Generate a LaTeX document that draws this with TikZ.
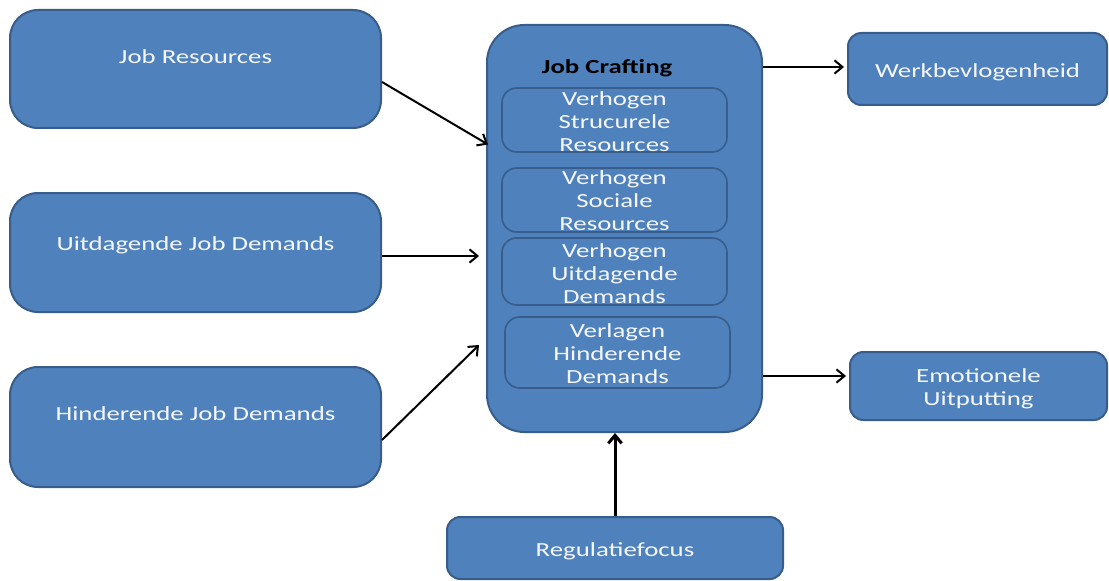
\documentclass[tikz,border=0pt]{standalone}
\usepackage{fontspec}
\setmainfont{Carlito}[FakeStretch=1.34]
\usepackage{tikz}
\usetikzlibrary{fit}
\usetikzlibrary{calc}
\usetikzlibrary{arrows.meta}
\definecolor{boxblue}{rgb}{0.31,0.506,0.741}
\definecolor{edgeblue}{rgb}{0.22,0.365,0.541}
\definecolor{textwhite}{rgb}{0.96,0.97,0.99}

\begin{document}
\begin{tikzpicture}[x=0.75pt, y=-0.75pt,
	box/.style={draw=edgeblue, fill=boxblue, line width=1.5pt, inner sep=0pt},
	lbox/.style={box, rounded corners=21pt},
	rbox/.style={box, rounded corners=10pt},
	ibox/.style={box, line width=1.2pt, rounded corners=11pt},
	lbl/.style={inner sep=0pt, text=textwhite, align=center,
		font=\fontsize{15}{17.25}\selectfont},
	arr/.style={-{Straight Barb[length=6pt,width=10pt]}, line width=1.5pt},
	title/.style={inner sep=0pt, font=\fontsize{15}{17.25}\selectfont\bfseries}]
	\useasboundingbox (0,0) rectangle (1109,581);

	\node[lbox, fit={(10,10) (381,128)}] (jr) {};	% left
	\node[lbl] (jrtext) at ($(jr)+(0,-12)$) {Job Resources};
	\node[lbox, fit={(10,193) (381,312)}] (ujd) {};
	\node[lbl] (ujdtext) at ($(ujd)+(0,-7)$) {Uitdagende Job Demands};
	\node[lbox, fit={(10,367) (381,487)}] (hjd) {};
	\node[lbl] (hjdtext) at ($(hjd)+(0,-13)$) {Hinderende Job Demands};

	\node[box, rounded corners=28pt, fit={(487,25) (762,432)}] (jc) {};	% Job Crafting
	\node[title] (jctitle) at (607,68) {Job Crafting};
	\node[ibox, fit={(502,88) (727,152)}] (vsr) {};
	\node[lbl] (vsrtext) at ($(vsr)+(0,2)$) {Verhogen\\Strucurele\\Resources};
	\node[ibox, fit={(502,168) (727,232)}] (vso) {};
	\node[lbl] (vsotext) at ($(vso)+(0,1)$) {Verhogen\\Sociale\\Resources};
	\node[ibox, fit={(502,238) (727,305)}] (vud) {};
	\node[lbl] (vudtext) at ($(vud)+(0,2)$) {Verhogen\\Uitdagende\\Demands};
	\node[ibox, fit={(505,317) (730,388)}] (vhd) {};
	\node[lbl] (vhdtext) at ($(vhd)+(0,1.5)$) {Verlagen\\Hinderende\\Demands};

	\node[rbox, fit={(848,33) (1107,105)}] (wb) {};	% right
	\node[lbl] (wbtext) at ($(wb)+(0,3)$) {Werkbevlogenheid};
	\node[rbox, fit={(850,352) (1107,420)}] (eu) {};
	\node[lbl] (eutext) at ($(eu)+(0,3)$) {Emotionele\\Uitputting};
	\node[rbox, fit={(447,517) (783,579)}] (rf) {};
	\node[lbl] (rftext) at ($(rf)+(0,3)$) {Regulatiefocus};

	\draw[arr] ($(jr.east)+(0,13)$) -- ($(jc.west)+(2,-84)$);	% Pointer
	\draw[arr] ($(ujd.east)+(0,3.5)$) -- ($(jc.west)+(-7,27.5)$);
	\draw[arr] ($(hjd.east)+(0,13)$) -- ($(jc.west)+(-7,116.5)$);
	\draw[arr] ($(jc.east)+(0,-161.5)$) -- ($(wb.west)+(-3,-2)$);
	\draw[arr] ($(jc.east)+(0,147.5)$) -- ($(eu.west)+(-3,-10)$);
	\draw[arr, line width=2.25pt] (rf.north) -- (rf.north |- jc.south);
\end{tikzpicture}
\end{document}
